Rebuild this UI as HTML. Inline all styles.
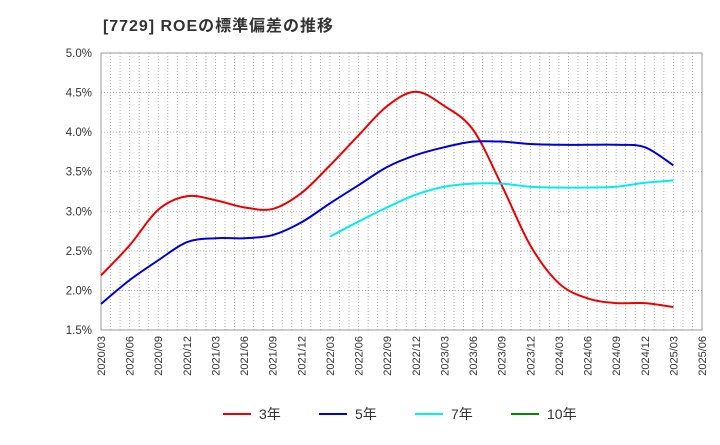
<!DOCTYPE html>
<html><head><meta charset="utf-8"><style>
body{margin:0;background:#fff;font-family:"Liberation Sans","Noto Sans CJK JP",sans-serif;}
</style></head><body>
<svg id="c" width="720" height="440" xmlns="http://www.w3.org/2000/svg">
<text x="103" y="31" font-size="16" font-weight="bold" fill="#333" textLength="230" font-family="Liberation Sans, Noto Sans CJK JP, sans-serif">[7729]  ROEの標準偏差の推移</text>
<rect x="101" y="53" width="601" height="277" fill="#fff" stroke="#999"/>
<g id="grid"></g><g id="axes"></g><g id="series"></g>
<g font-size="14" fill="#333">
<line x1="223" y1="414" x2="251" y2="414" stroke="#e00" stroke-width="2"/><text x="259" y="419">3年</text>
<line x1="319" y1="414" x2="347" y2="414" stroke="#00d" stroke-width="2"/><text x="355" y="419">5年</text>
<line x1="415" y1="414" x2="443" y2="414" stroke="#0ee" stroke-width="2"/><text x="451" y="419">7年</text>
<line x1="511" y1="414" x2="539" y2="414" stroke="#080" stroke-width="2"/><text x="547" y="419">10年</text>
</g>
</svg>
<script>
const xLabels=["2020/03","2020/06","2020/09","2020/12","2021/03","2021/06","2021/09","2021/12","2022/03","2022/06","2022/09","2022/12","2023/03","2023/06","2023/09","2023/12","2024/03","2024/06","2024/09","2024/12","2025/03","2025/06"];
const yTicks=[1.5,2.0,2.5,3.0,3.5,4.0,4.5,5.0];
const s3=[2.19,2.57,3.02,3.19,3.14,3.05,3.03,3.23,3.58,3.96,4.33,4.51,4.33,4.03,3.33,2.57,2.09,1.90,1.84,1.84,1.79];
const s5=[1.83,2.13,2.38,2.61,2.66,2.66,2.70,2.86,3.10,3.33,3.56,3.71,3.81,3.88,3.88,3.85,3.84,3.84,3.84,3.81,3.58];
const s7=[null,null,null,null,null,null,null,null,2.68,2.87,3.05,3.21,3.31,3.35,3.35,3.31,3.30,3.30,3.31,3.36,3.39];
const s10=[];
const X0=101,X1=702,Y0=330,Y1=53;
const xs=i=>X0+i*(X1-X0)/(xLabels.length-1);
const ys=v=>Y0-(v-1.5)/(5.0-1.5)*(Y0-Y1);
const NS="http://www.w3.org/2000/svg";
function mk(t,a,p){const e=document.createElementNS(NS,t);for(const k in a)e.setAttribute(k,a[k]);p.appendChild(e);return e;}
const grid=document.getElementById('grid'),axes=document.getElementById('axes'),ser=document.getElementById('series');
for(let m=1;m<(xLabels.length-1)*3;m++){const x=X0+m*(X1-X0)/((xLabels.length-1)*3);
const l=mk('line',{x1:x,x2:x,y1:Y1,y2:Y0,stroke:'#999','stroke-dasharray':'1,2','stroke-width':0.8},grid);

}
yTicks.forEach(v=>{const y=ys(v);
const l=mk('line',{x1:X0,x2:X1,y1:y,y2:y,stroke:'#999','stroke-dasharray':'1,2','stroke-width':0.8},grid);


const t=mk('text',{x:92,y:y+4,'text-anchor':'end','font-size':11.5,fill:'#333'},axes);t.textContent=v.toFixed(1)+'%';

});
xLabels.forEach((s,i)=>{const x=xs(i);
const t=mk('text',{x:x+4,y:336,'text-anchor':'end','font-size':11,fill:'#333',transform:`rotate(-90 ${x+4} 336)`},axes);t.textContent=s;

});
function path(arr){const p=[];arr.forEach((v,i)=>{if(v!=null)p.push([xs(i),ys(v)]);});if(p.length<2)return '';
let d=`M${p[0][0]},${p[0][1]}`;for(let i=0;i<p.length-1;i++){const a=p[i-1]||p[i],b=p[i],c=p[i+1],e=p[i+2]||c;
d+=` C${b[0]+(c[0]-a[0])/6},${b[1]+(c[1]-a[1])/6} ${c[0]-(e[0]-b[0])/6},${c[1]-(e[1]-b[1])/6} ${c[0]},${c[1]}`;}return d;}
[[s3,'#e00','line-3y'],[s5,'#00d','line-5y'],[s7,'#0ee','line-7y'],[s10,'#080','line-10y']].forEach(([a,c,n])=>{const d=path(a);if(!d)return;
const e=mk('path',{d:d,fill:'none',stroke:c,'stroke-width':2},ser);

});
</script>
</body></html>
